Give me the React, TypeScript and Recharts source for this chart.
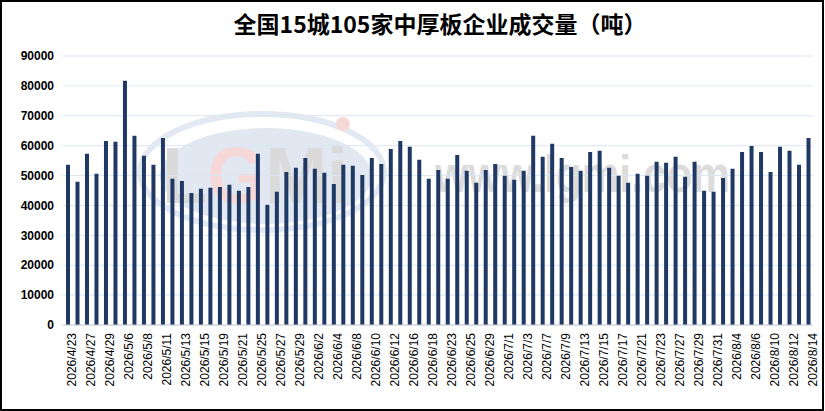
import React from "react";
import { BarChart, Bar, XAxis, YAxis, CartesianGrid } from "recharts";

const TITLE = "全国15城105家中厚板企业成交量（吨）";

const dates = [
  "2026/4/23","2026/4/24","2026/4/27","2026/4/28","2026/4/29","2026/4/30",
  "2026/5/6","2026/5/7","2026/5/8","2026/5/9","2026/5/11","2026/5/12","2026/5/13","2026/5/14","2026/5/15",
  "2026/5/18","2026/5/19","2026/5/20","2026/5/21","2026/5/22","2026/5/25","2026/5/26","2026/5/27","2026/5/28","2026/5/29",
  "2026/6/1","2026/6/2","2026/6/3","2026/6/4","2026/6/5","2026/6/8","2026/6/9","2026/6/10","2026/6/11","2026/6/12",
  "2026/6/15","2026/6/16","2026/6/17","2026/6/18","2026/6/22","2026/6/23","2026/6/24","2026/6/25","2026/6/26",
  "2026/6/29","2026/6/30","2026/7/1","2026/7/2","2026/7/3","2026/7/6","2026/7/7","2026/7/8","2026/7/9","2026/7/10",
  "2026/7/13","2026/7/14","2026/7/15","2026/7/16","2026/7/17","2026/7/20","2026/7/21","2026/7/22","2026/7/23","2026/7/24",
  "2026/7/27","2026/7/28","2026/7/29","2026/7/30","2026/7/31","2026/8/3","2026/8/4","2026/8/5","2026/8/6","2026/8/7",
  "2026/8/10","2026/8/11","2026/8/12","2026/8/13","2026/8/14",
];

const volumes = [
  53600, 47900, 57300, 50600, 61600, 61300,
  81700, 63300, 56600, 53600, 62600, 48900, 48200, 44200, 45600,
  45900, 46200, 46900, 44900, 46200, 57300, 40200, 44600, 51200, 52600,
  55900, 52300, 50900, 47200, 53600, 53300, 50200, 55900, 53900, 58900,
  61600, 59600, 55300, 48900, 51900, 48900, 56900, 51600, 47600,
  51900, 53900, 49900, 48600, 51600, 63300, 56300, 60600, 55900, 52900,
  51600, 57900, 58300, 52600, 49900, 47600, 50600, 49900, 54600, 54300,
  56300, 49600, 54600, 44900, 44600, 49200, 52300, 57900, 59900, 57900,
  51200, 59600, 58300, 53600, 62600,
];

const yTicks = [0, 10000, 20000, 30000, 40000, 50000, 60000, 70000, 80000, 90000];

const data = dates.map((d, i) => ({ date: d, value: volumes[i] }));
const boundaryTicks = dates.map((_, i) => i).concat([dates.length]);

const W = 825;
const H = 411;

function Background() {
  return (
    <svg width={W} height={H} style={{ position: "absolute", left: 0, top: 0 }}>
      <rect x={1} y={1} width={822} height={409} fill="#fff" stroke="#000" strokeWidth={2} />
      {/* watermark */}
      <ellipse cx={262} cy={172} rx={122} ry={58} fill="none" stroke="#e3e9f2" strokeWidth={6} />
      <ellipse cx={266} cy={176} rx={106} ry={48} fill="#e1e8f1" />
      <text x={162} y={203} fontFamily="Liberation Sans, Arial, sans-serif" fontWeight="bold" fontSize={80} textLength={186} lengthAdjust="spacingAndGlyphs">
        <tspan fill="#dadada">L</tspan>
        <tspan fill="#f7d8d8">G</tspan>
        <tspan fill="#dadada">Mi</tspan>
      </text>
      <circle cx={343} cy={124} r={7} fill="#f7d8d8" />
      <text x={435} y={192} fontFamily="Liberation Sans Narrow, Liberation Sans, Arial, sans-serif" fontWeight="bold" fontSize={52} fill="#dcdcdc" textLength={295} lengthAdjust="spacingAndGlyphs">
        www.lgmi.com
      </text>
      <text x={440} y={33} textAnchor="middle" fontFamily="Noto Sans CJK SC, sans-serif" fontWeight="bold" fontSize={23} fill="#000">
        {TITLE}
      </text>
    </svg>
  );
}

export default function App() {
  return (
    <div style={{ position: "absolute", left: 0, top: 0, width: W, height: H }}>
      <Background />
      <div style={{ position: "absolute", left: 0, top: 0 }}>
        <BarChart
          width={W}
          height={H}
          data={data}
          margin={{ top: 56, right: 12, bottom: 6, left: 0 }}
          barSize={4}
        >
          <CartesianGrid vertical={false} stroke="#dce6f2" strokeWidth={1} />
          <XAxis
            xAxisId="b"
            type="number"
            domain={[0, dates.length]}
            ticks={boundaryTicks}
            height={0}
            axisLine={false}
            tick={false}
            tickLine={{ stroke: "#c8c8c8" }}
            tickSize={5}
            allowDataOverflow
          />
          <XAxis
            dataKey="date"
            interval={1}
            height={80}
            axisLine={{ stroke: "#d0d0d0" }}
            tickLine={false}
            tickSize={6}
            tickMargin={2}
            tick={{
              angle: -90,
              textAnchor: "end",
              verticalAnchor: "middle",
              fontSize: 12,
              fill: "#000",
              fontFamily: "Liberation Sans, Arial, sans-serif",
            }}
          />
          <YAxis
            width={63}
            domain={[0, 90000]}
            ticks={yTicks}
            interval={0}
            axisLine={false}
            tickLine={false}
            tickSize={0}
            tickMargin={9}
            tick={{
              fontSize: 12,
              fontWeight: "bold",
              fill: "#000",
              fontFamily: "Liberation Sans, Arial, sans-serif",
            }}
          />
          <Bar dataKey="value" fill="#1f3864" isAnimationActive={false} />
        </BarChart>
      </div>
    </div>
  );
}
